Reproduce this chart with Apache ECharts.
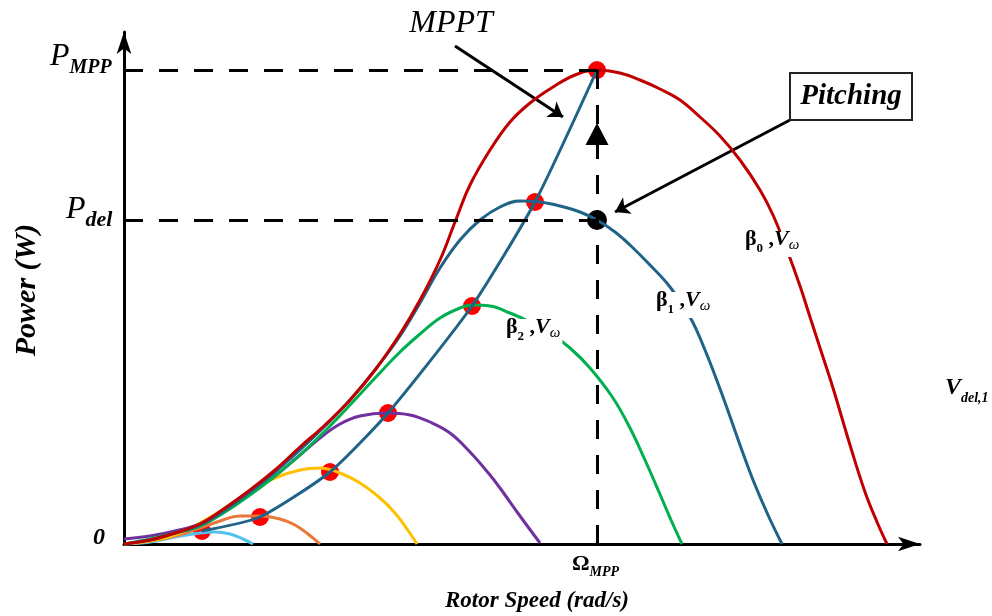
<!DOCTYPE html>
<html>
<head>
<meta charset="utf-8">
<script src="https://cdn.jsdelivr.net/npm/echarts@6/dist/echarts.min.js"></script>
<style>
  html, body { margin: 0; padding: 0; background: #fff; }
  #chart { width: 992px; height: 616px; }
</style>
</head>
<body>
<div id="chart"></div>
<script>
// power curves, [rotor speed, power] in arbitrary units
const beta0Curve = [[0,0],[26,4],[51,11],[76,20],[101,36],[126,54],[151,74],[176,97],[201,119],[226,144],[251,174],[276,210],[296,244],[316,284],[331,322],[346,359],[366,394],[386,422],[406,441],[429,457],[451,469],[473,474],[496,471],[516,464],[536,455],[556,444],[576,427],[596,408],[616,384],[636,354],[649,329],[663,294],[676,258],[686,227],[698,190],[709,156],[726,99],[741,52],[753,22],[763,0]];
const beta1Curve = [[0,0],[26,4],[51,11],[76,19],[101,34],[126,52],[151,72],[176,94],[201,118],[226,144],[251,174],[276,208],[296,241],[316,276],[336,304],[356,324],[376,337],[396,343],[416,342],[436,338],[456,332],[473,324],[491,312],[506,299],[526,279],[546,257],[566,227],[581,194],[599,147],[616,99],[629,64],[644,29],[658,0]];
const beta2Curve = [[0,0],[26,5],[51,11],[76,18],[101,32],[126,49],[151,68],[176,89],[201,113],[226,139],[251,166],[276,192],[296,210],[316,226],[336,236],[348,239],[366,238],[386,231],[406,222],[426,211],[446,196],[466,176],[489,146],[506,116],[521,84],[535,52],[547,24],[558,0]];
const purpleCurve = [[0,5],[26,8],[51,13],[76,20],[101,34],[126,50],[151,68],[176,89],[196,106],[216,120],[236,128],[263,131],[286,129],[306,122],[326,111],[346,92],[366,69],[376,56],[396,28],[416,1]];
const yellowCurve = [[0,0],[26,3],[51,9],[76,21],[103,37],[126,53],[151,66],[176,74],[196,76],[216,71],[236,61],[256,46],[271,31],[283,15],[293,0]];
const orangeCurve = [[0,0],[26,3],[51,8],[76,16],[96,23],[116,28],[136,28],[156,25],[171,19],[184,10],[196,0]];
const cyanCurve = [[0,0],[26,2],[51,7],[76,11],[91,12],[106,10],[119,5],[129,0]];

// maximum power points tracked by MPPT
const mpptPoints = [[78,13],[136,27],[206,72],[264,131],[348,238],[411,342],[473,474]];

const pMpp = 474;
const pDel = 324;
const omegaMpp = 473;

const xMax = 796;
const yMax = 512;

const font = '"Liberation Serif", "Times New Roman", serif';
function tok(style, weight, size, padB) {
  return { fontStyle: style, fontWeight: weight, fontSize: size, fontFamily: font,
           lineHeight: size, verticalAlign: 'bottom', padding: [0, 0, padB, 0] };
}
function label(x, y, text, rich, extra) {
  return {
    type: 'text', x: x, y: y, z: 100,
    style: Object.assign({ text: text, rich: rich, fill: '#000', align: 'left', verticalAlign: 'bottom' }, extra || {})
  };
}
const betaRich = {
  b: tok('normal', 'bold', 22, 5),
  s: tok('normal', 'bold', 13, 0),
  v: tok('italic', 'bold', 22, 5),
  w: tok('italic', 'normal', 15, 2)
};
const betaBox = { backgroundColor: '#fff', padding: [2, 2, 2, 2] };

const chart = echarts.init(document.getElementById('chart'));

function curve(data, color) {
  return {
    type: 'line', data: data, smooth: 0.4,
    showSymbol: false, silent: true,
    lineStyle: { color: color, width: 3 }
  };
}

const dash = { color: '#000', width: 3, type: [19, 16] };

chart.setOption({
  animation: false,
  grid: { left: 124, right: 72, top: 32, bottom: 72 },
  xAxis: {
    type: 'value', min: 0, max: xMax,
    axisLine: { symbol: ['none', 'arrow'], symbolSize: [11, 22], lineStyle: { color: '#000', width: 3 } },
    axisTick: { show: false }, axisLabel: { show: false }, splitLine: { show: false }
  },
  yAxis: {
    type: 'value', min: 0, max: yMax,
    axisLine: { symbol: ['none', 'arrow'], symbolSize: [11, 22], lineStyle: { color: '#000', width: 3 } },
    axisTick: { show: false }, axisLabel: { show: false }, splitLine: { show: false }
  },
  series: [
    curve(cyanCurve, '#56c3ef'),
    curve(orangeCurve, '#e8773a'),
    curve(yellowCurve, '#ffc000'),
    curve(purpleCurve, '#7030a0'),
    curve(beta2Curve, '#00b050'),
    curve(beta1Curve, '#1f6387'),
    curve(beta0Curve, '#c00000'),
    {
      type: 'scatter', data: [[omegaMpp, pDel]], symbolSize: 20, silent: true,
      itemStyle: { color: '#000', opacity: 1 },
      markLine: {
        silent: true, symbol: 'none', label: { show: false }, lineStyle: dash,
        data: [
          [{ coord: [0, pMpp] }, { coord: [omegaMpp, pMpp] }],
          [{ coord: [0, pDel] }, { coord: [omegaMpp, pDel] }],
          [{ coord: [omegaMpp, 0] }, { coord: [omegaMpp, pMpp] }]
        ]
      },
      markPoint: {
        silent: true, symbol: 'triangle', symbolSize: [23, 22], label: { show: false },
        itemStyle: { color: '#000' },
        data: [{ coord: [omegaMpp, 410] }]
      }
    },
    {
      type: 'scatter', data: mpptPoints, symbolSize: 18, silent: true,
      itemStyle: { color: '#ff0000', opacity: 1 }
    },
    {
      type: 'line', data: mpptPoints, smooth: 0.2, showSymbol: false, silent: true,
      lineStyle: { color: '#1f6387', width: 3 }
    },
    {
      type: 'lines', coordinateSystem: 'cartesian2d', silent: true, clip: false,
      symbol: ['none', 'arrow'], symbolSize: 14,
      lineStyle: { color: '#000', width: 3, opacity: 1 },
      data: [
        { coords: [[331, 498], [439, 427]] },
        { coords: [[666, 424], [491, 332]] }
      ]
    }
  ],
  graphic: [
    label(50, 78, '{p|P}{s|MPP}', { p: tok('italic', 'normal', 32, 5), s: tok('italic', 'bold', 20, 0) }),
    label(66, 231, '{p|P}{s|del}', { p: tok('italic', 'normal', 32, 5), s: tok('italic', 'bold', 22, 0) }),
    { type: 'text', x: 99, y: 538, z: 100,
      style: { text: '0', fill: '#000', align: 'center', verticalAlign: 'middle', font: 'italic bold 24px ' + font } },
    label(572, 579, '{o|Ω}{s|MPP}', { o: tok('normal', 'bold', 22, 4), s: tok('italic', 'bold', 14, 0) }),
    { type: 'text', x: 537, y: 601, z: 100,
      style: { text: 'Rotor Speed (rad/s)', fill: '#000', align: 'center', verticalAlign: 'middle', font: 'italic bold 23px ' + font } },
    { type: 'text', x: 27, y: 290, z: 100, rotation: Math.PI / 2,
      style: { text: 'Power (W)', fill: '#000', align: 'center', verticalAlign: 'middle', font: 'italic bold 30px ' + font } },
    { type: 'text', x: 451, y: 24, z: 100,
      style: { text: 'MPPT', fill: '#000', align: 'center', verticalAlign: 'middle', font: 'italic 32px ' + font } },
    { type: 'rect', z: 100, shape: { x: 790, y: 73, width: 122, height: 47 },
      style: { fill: '#fff', stroke: '#222', lineWidth: 2 } },
    { type: 'text', x: 851, y: 97, z: 101,
      style: { text: 'Pitching', fill: '#000', align: 'center', verticalAlign: 'middle', font: 'italic bold 29px ' + font } },
    label(743, 257, '{b|β}{s|0}{b| ,}{v|V}{w|ω}', betaRich, betaBox),
    label(654, 318, '{b|β}{s|1}{b| ,}{v|V}{w|ω}', betaRich, betaBox),
    label(504, 345, '{b|β}{s|2}{b| ,}{v|V}{w|ω}', betaRich, betaBox),
    label(945, 405, '{v|V}{s|del,1}', { v: tok('italic', 'bold', 24, 5), s: tok('italic', 'bold', 14, 0) })
  ]
});
</script>
</body>
</html>
